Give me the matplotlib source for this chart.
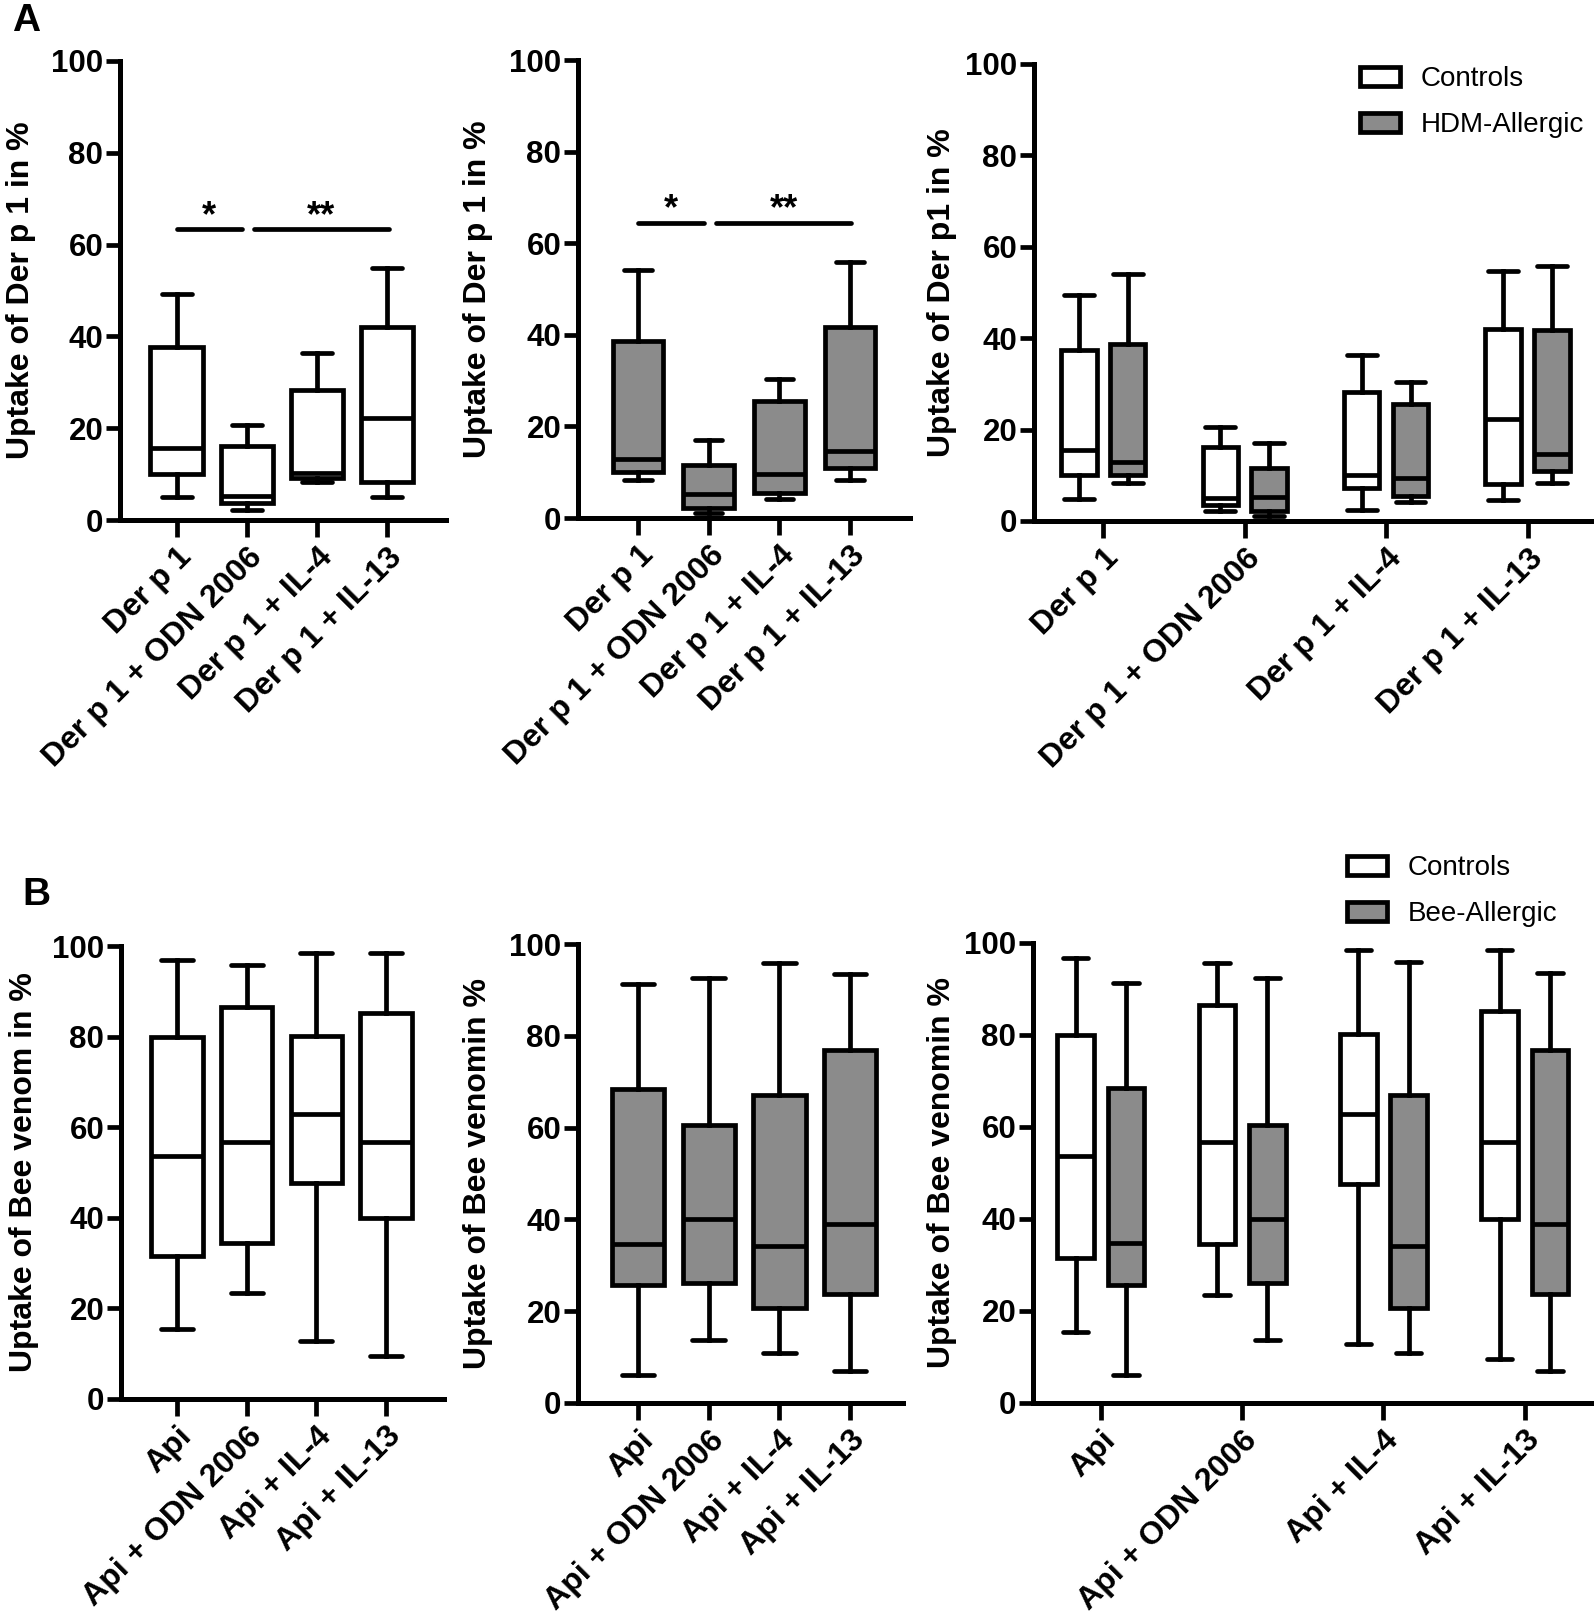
import matplotlib
matplotlib.use("Agg")
import matplotlib.pyplot as plt
from matplotlib.patches import Patch

plt.rcParams['font.family'] = ['Liberation Sans', 'DejaVu Sans']

GRAY = '#8b8b8b'

# --- data (box stats: min, q1, median, q3, max) ---
der_groups = ["Der p 1", "Der p 1 + ODN 2006", "Der p 1 + IL-4", "Der p 1 + IL-13"]
api_groups = ["Api", "Api + ODN 2006", "Api + IL-4", "Api + IL-13"]

der_ctrl_min = [5.1, 2.2, 8.2, 5.0]
der_ctrl_q1 = [10.0, 3.7, 9.2, 8.3]
der_ctrl_med = [15.6, 5.2, 10.2, 22.3]
der_ctrl_q3 = [37.7, 16.2, 28.3, 42.0]
der_ctrl_max = [49.2, 20.6, 36.4, 54.8]

# controls as drawn in the comparison panel
der_cmp_min = [4.8, 2.2, 2.5, 4.7]
der_cmp_q1 = [10.1, 3.4, 7.3, 8.0]
der_cmp_med = [15.6, 5.0, 10.1, 22.3]
der_cmp_q3 = [37.4, 16.2, 28.2, 42.1]
der_cmp_max = [49.4, 20.6, 36.4, 54.7]

der_alg_min = [8.4, 1.1, 4.2, 8.4]
der_alg_q1 = [10.0, 2.1, 5.5, 11.0]
der_alg_med = [12.9, 5.2, 9.5, 14.6]
der_alg_q3 = [38.7, 11.6, 25.6, 41.8]
der_alg_max = [54.1, 17.0, 30.4, 55.8]

bee_ctrl_min = [15.4, 23.4, 12.8, 9.6]
bee_ctrl_q1 = [31.5, 34.5, 47.7, 39.9]
bee_ctrl_med = [53.7, 56.8, 62.9, 56.7]
bee_ctrl_q3 = [79.9, 86.5, 80.2, 85.3]
bee_ctrl_max = [96.8, 95.7, 98.5, 98.5]

bee_alg_min = [6.0, 13.8, 10.8, 7.0]
bee_alg_q1 = [25.7, 26.1, 20.7, 23.8]
bee_alg_med = [34.7, 40.1, 34.2, 39.0]
bee_alg_q3 = [68.4, 60.5, 67.0, 76.8]
bee_alg_max = [91.2, 92.5, 95.8, 93.5]

sig_pairs = [(0, 1, "*"), (1, 3, "**")]


def stats(mins, q1s, meds, q3s, maxs):
    return [dict(whislo=a, q1=b, med=c, q3=d, whishi=e, fliers=[])
            for a, b, c, d, e in zip(mins, q1s, meds, q3s, maxs)]


fig = plt.figure(figsize=(15.94, 16.2), dpi=100)
W, H = 1594, 1620
LW = 3.4


def make_ax(left, right, top, bottom, xlim, ylabel, label_x, labels):
    ax = fig.add_axes([left / W, 1 - bottom / H, (right - left) / W, (bottom - top) / H])
    ax.set_xlim(*xlim)
    ax.set_ylim(0, 100)
    for s in ['top', 'right']:
        ax.spines[s].set_visible(False)
    for s in ['left', 'bottom']:
        ax.spines[s].set_linewidth(3.6)
    ax.set_yticks([0, 20, 40, 60, 80, 100])
    ax.tick_params(axis='y', length=10, width=3.4, pad=2, labelsize=22.5)
    ax.tick_params(axis='x', length=12, width=3.4, pad=4)
    for t in ax.get_yticklabels():
        t.set_fontweight('bold')
    ax.set_xticks(range(4))
    ax.set_xticklabels(labels, rotation=45, ha='right', rotation_mode='anchor',
                       fontsize=23, fontweight='bold')
    ax.set_ylabel(ylabel, fontsize=23, fontweight='bold', va='center')
    ax.yaxis.set_label_coords((label_x - left) / (right - left), 0.5)
    return ax


def draw_boxes(ax, st, pos, width, capw, color):
    parts = ax.bxp(st, positions=pos, widths=width, capwidths=capw,
                   patch_artist=True, showfliers=False, manage_ticks=False,
                   boxprops=dict(facecolor=color, edgecolor='black', linewidth=LW),
                   medianprops=dict(color='black', linewidth=LW),
                   whiskerprops=dict(color='black', linewidth=LW),
                   capprops=dict(color='black', linewidth=LW, solid_capstyle='round'))
    for k in parts:
        for a in parts[k]:
            a.set_clip_on(False)


def draw_sig(ax, y):
    offs = {0: (0.0, 0.93), 1: (1.1, 3.02)}
    for i, (a, b, txt) in enumerate(sig_pairs):
        x0, x1 = offs[i]
        ax.plot([x0, x1], [y, y], color='black', lw=LW, solid_capstyle='round')
        ax.text((x0 + x1) / 2, y + 0.8, txt, ha='center', va='baseline',
                fontsize=26, fontweight='bold')


# Panel A
ax1 = make_ax(120, 446, 61, 520, (-0.81, 3.84), "Uptake of Der p 1 in %", 21, der_groups)
draw_boxes(ax1, stats(der_ctrl_min, der_ctrl_q1, der_ctrl_med, der_ctrl_q3, der_ctrl_max),
           range(4), 0.75, 0.43, 'white')
draw_sig(ax1, 63.3)

ax2 = make_ax(578, 910, 60, 518, (-0.85, 3.85), "Uptake of Der p 1 in %", 478, der_groups)
draw_boxes(ax2, stats(der_alg_min, der_alg_q1, der_alg_med, der_alg_q3, der_alg_max),
           range(4), 0.72, 0.39, GRAY)
draw_sig(ax2, 64.4)

ax3 = make_ax(1034, 1594, 64, 521, (-0.49, 3.47), "Uptake of Der p1 in %", 942, der_groups)
draw_boxes(ax3, stats(der_cmp_min, der_cmp_q1, der_cmp_med, der_cmp_q3, der_cmp_max),
           [i - 0.173 for i in range(4)], 0.25, 0.21, 'white')
draw_boxes(ax3, stats(der_alg_min, der_alg_q1, der_alg_med, der_alg_q3, der_alg_max),
           [i + 0.173 for i in range(4)], 0.25, 0.21, GRAY)

# Panel B
bx1 = make_ax(121, 444, 946, 1399, (-0.80, 3.83), "Uptake of Bee venom in %", 24, api_groups)
draw_boxes(bx1, stats(bee_ctrl_min, bee_ctrl_q1, bee_ctrl_med, bee_ctrl_q3, bee_ctrl_max),
           range(4), 0.74, 0.46, 'white')

bx2 = make_ax(578, 903, 944, 1403, (-0.85, 3.75), "Uptake of Bee venomin %", 478, api_groups)
draw_boxes(bx2, stats(bee_alg_min, bee_alg_q1, bee_alg_med, bee_alg_q3, bee_alg_max),
           range(4), 0.74, 0.46, GRAY)

bx3 = make_ax(1033, 1594, 943, 1403, (-0.48, 3.49), "Uptake of Bee venomin %", 942, api_groups)
draw_boxes(bx3, stats(bee_ctrl_min, bee_ctrl_q1, bee_ctrl_med, bee_ctrl_q3, bee_ctrl_max),
           [i - 0.178 for i in range(4)], 0.26, 0.18, 'white')
draw_boxes(bx3, stats(bee_alg_min, bee_alg_q1, bee_alg_med, bee_alg_q3, bee_alg_max),
           [i + 0.178 for i in range(4)], 0.26, 0.18, GRAY)


def legend(ax, names, x, y):
    handles = [Patch(facecolor='white', edgecolor='black', linewidth=LW),
               Patch(facecolor=GRAY, edgecolor='black', linewidth=LW)]
    ax.legend(handles, names, loc='upper left', bbox_to_anchor=(x / W, 1 - y / H),
              bbox_transform=fig.transFigure, frameon=False, fontsize=20,
              handlelength=1.45, handleheight=0.7, handletextpad=0.75,
              labelspacing=0.72, borderpad=0, borderaxespad=0)


legend(ax3, ["Controls", "HDM-Allergic"], 1360, 66)
legend(bx3, ["Controls", "Bee-Allergic"], 1347, 855)

fig.text(12 / W, 1 - 31 / H, "A", fontsize=28, fontweight='bold', va='baseline')
fig.text(22 / W, 1 - 905 / H, "B", fontsize=28, fontweight='bold', va='baseline')

fig.savefig("out.png", dpi=100)
